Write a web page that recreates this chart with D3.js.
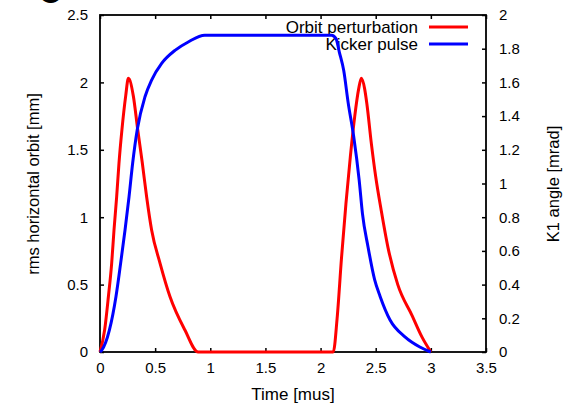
<!DOCTYPE html>
<html>
<head>
<meta charset="utf-8">
<script src="https://cdn.jsdelivr.net/npm/d3@7"></script>
<style>
  body { margin: 0; background: #fff; }
  svg text { font-family: "Liberation Sans", Arial, sans-serif; fill: #000; }
</style>
</head>
<body>
<svg id="chart" width="572" height="405"></svg>
<script>
// orbit perturbation (left axis, mm)
const orbitTime = [0, 0.042, 0.076, 0.106, 0.127, 0.151, 0.172, 0.199, 0.233, 0.257, 0.302, 0.342, 0.384, 0.423, 0.468, 0.544, 0.635, 0.77, 0.89,
  2.115, 2.15, 2.19, 2.23, 2.27, 2.31, 2.345, 2.37, 2.40, 2.42, 2.46, 2.50, 2.55, 2.61, 2.70, 2.83, 2.92, 3.0]
const orbitValue = [0, 0.163, 0.41, 0.66, 0.905, 1.15, 1.40, 1.65, 1.90, 2.03, 1.90, 1.65, 1.40, 1.15, 0.905, 0.66, 0.41, 0.163, 0,
  0, 0.25, 0.70, 1.10, 1.45, 1.75, 1.95, 2.03, 1.95, 1.84, 1.55, 1.30, 1.05, 0.78, 0.50, 0.27, 0.11, 0]

// kicker pulse (right axis, mrad)
const kickerTime = [0, 0.015, 0.085, 0.145, 0.187, 0.227, 0.263, 0.296, 0.338, 0.408, 0.468, 0.559, 0.68, 0.80, 0.95,
  2.10, 2.14, 2.17, 2.21, 2.25, 2.30, 2.35, 2.38, 2.43, 2.49, 2.54, 2.63, 2.765, 2.90, 3.0]
const kickerValue = [0, 0.01, 0.13, 0.33, 0.526, 0.724, 0.92, 1.12, 1.32, 1.515, 1.614, 1.713, 1.79, 1.84, 1.88,
  1.88, 1.86, 1.78, 1.67, 1.48, 1.28, 1.02, 0.82, 0.625, 0.43, 0.33, 0.19, 0.09, 0.03, 0]

const xTicks = [0, 0.5, 1, 1.5, 2, 2.5, 3, 3.5]
const yTicks = [0, 0.5, 1, 1.5, 2, 2.5]
const y2Ticks = [0, 0.2, 0.4, 0.6, 0.8, 1, 1.2, 1.4, 1.6, 1.8, 2]

const seriesNames = ['Orbit perturbation', 'Kicker pulse']
const seriesColors = ['#ff0000', '#0000ff']

const svg = d3.select('#chart')
const plotLeft = 100, plotRight = 486, plotTop = 15, plotBottom = 352

const x = d3.scaleLinear().domain([0, 3.5]).range([plotLeft, plotRight])
const y = d3.scaleLinear().domain([0, 2.5]).range([plotBottom, plotTop])
const y2 = d3.scaleLinear().domain([0, 2]).range([plotBottom, plotTop])

// panel letter, cut off at the top like in the source figure
svg.append('text')
  .attr('x', 50).attr('y', 3)
  .attr('text-anchor', 'middle')
  .style('font-size', '44px').style('font-weight', 'bold')
  .text('c')

const tickLen = 4

// bottom / top
svg.append('g')
  .attr('transform', `translate(0,${plotBottom})`)
  .call(d3.axisBottom(x).tickValues(xTicks).tickSize(-tickLen).tickPadding(10).tickFormat(d3.format('')))
svg.append('g')
  .attr('transform', `translate(0,${plotTop})`)
  .call(d3.axisTop(x).tickValues(xTicks).tickSize(-tickLen).tickFormat(''))
// left / right
svg.append('g')
  .attr('transform', `translate(${plotLeft},0)`)
  .call(d3.axisLeft(y).tickValues(yTicks).tickSize(-tickLen).tickPadding(12).tickFormat(d3.format('')))
svg.append('g')
  .attr('transform', `translate(${plotRight},0)`)
  .call(d3.axisRight(y2).tickValues(y2Ticks).tickSize(-tickLen).tickPadding(13).tickFormat(d3.format('')))

svg.selectAll('.domain').remove()
svg.selectAll('.tick line').attr('stroke', '#000').attr('stroke-width', 1.5)
svg.selectAll('.tick text').style('font-size', '15px').attr('fill', '#000')

svg.append('rect')
  .attr('x', plotLeft).attr('y', plotTop)
  .attr('width', plotRight - plotLeft).attr('height', plotBottom - plotTop)
  .attr('fill', 'none').attr('stroke', '#000').attr('stroke-width', 1.8)

// axis titles
svg.append('text')
  .attr('transform', 'translate(293,400)')
  .attr('text-anchor', 'middle')
  .style('font-size', '17px')
  .text('Time [mus]')
svg.append('text')
  .attr('transform', 'translate(39,184) rotate(-90)')
  .attr('text-anchor', 'middle')
  .style('font-size', '16.5px')
  .text('rms horizontal orbit [mm]')
svg.append('text')
  .attr('transform', 'translate(559,184) rotate(-90)')
  .attr('text-anchor', 'middle')
  .style('font-size', '16.5px')
  .text('K1 angle [mrad]')

// legend text
const legend = svg.append('g')
seriesNames.forEach((name, i) => {
  legend.append('text')
    .attr('x', 418).attr('y', 32.5 + i * 17)
    .attr('text-anchor', 'end')
    .style('font-size', '17px')
    .text(name)
})

// curves
const orbitLine = d3.line().curve(d3.curveMonotoneX).x(i => x(orbitTime[i])).y(i => y(orbitValue[i]))
const kickerLine = d3.line().curve(d3.curveMonotoneX).x(i => x(kickerTime[i])).y(i => y2(kickerValue[i]))

svg.append('path')
  .attr('d', orbitLine(d3.range(orbitTime.length)))
  .attr('fill', 'none').attr('stroke', seriesColors[0]).attr('stroke-width', 3)
  .attr('stroke-linejoin', 'round')
svg.append('path')
  .attr('d', kickerLine(d3.range(kickerTime.length)))
  .attr('fill', 'none').attr('stroke', seriesColors[1]).attr('stroke-width', 3)
  .attr('stroke-linejoin', 'round')

// legend samples
seriesColors.forEach((c, i) => {
  legend.append('line')
    .attr('x1', 429).attr('x2', 468)
    .attr('y1', 27 + i * 17).attr('y2', 27 + i * 17)
    .attr('stroke', c).attr('stroke-width', 3)
})
</script>
</body>
</html>
